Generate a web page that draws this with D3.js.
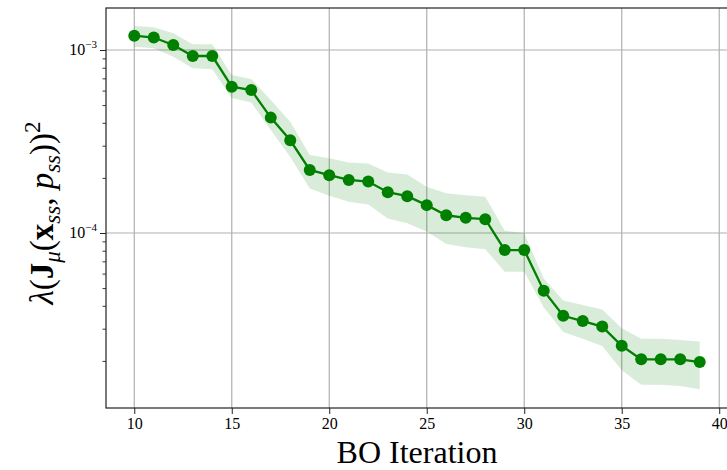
<!DOCTYPE html>
<html>
<head>
<meta charset="utf-8">
<script src="https://cdn.jsdelivr.net/npm/d3@7"></script>
<style>
    body { margin: 0; background: #fff; }
    svg { display: block; }
    text { font-family: "Liberation Serif", "DejaVu Serif", serif; fill: #000; }
</style>
</head>
<body>
<svg id="chart" width="727" height="470"></svg>
<script>
(function () {
    "use strict";

    // BO iterations
    var iterations = [10, 11, 12, 13, 14, 15, 16, 17, 18, 19, 20, 21, 22, 23, 24,
        25, 26, 27, 28, 29, 30, 31, 32, 33, 34, 35, 36, 37, 38, 39];

    // mean eigenvalue
    var meanValues = [1.197e-3, 1.17e-3, 1.065e-3, 9.27e-4, 9.27e-4, 6.3e-4, 6.04e-4, 4.27e-4,
        3.21e-4, 2.21e-4, 2.07e-4, 1.95e-4, 1.91e-4, 1.67e-4, 1.59e-4, 1.42e-4, 1.25e-4,
        1.21e-4, 1.19e-4, 8.07e-5, 8.07e-5, 4.84e-5, 3.53e-5, 3.30e-5, 3.08e-5, 2.42e-5,
        2.04e-5, 2.04e-5, 2.04e-5, 1.97e-5];

    // shaded band
    var upperValues = [1.352e-3, 1.33e-3, 1.233e-3, 1.074e-3, 1.074e-3, 7.30e-4, 6.95e-4, 5.33e-4,
        4.06e-4, 2.67e-4, 2.56e-4, 2.43e-4, 2.40e-4, 2.14e-4, 2.09e-4, 1.79e-4, 1.65e-4,
        1.61e-4, 1.58e-4, 1.03e-4, 9.96e-5, 5.65e-5, 4.28e-5, 4.04e-5, 3.82e-5, 3.02e-5,
        2.64e-5, 2.64e-5, 2.60e-5, 2.55e-5];
    var lowerValues = [1.042e-3, 1.021e-3, 9.19e-4, 7.94e-4, 7.85e-4, 5.47e-4, 5.16e-4, 3.66e-4,
        2.60e-4, 1.75e-4, 1.60e-4, 1.48e-4, 1.43e-4, 1.20e-4, 1.13e-4, 1.02e-4, 8.71e-5,
        8.36e-5, 8.15e-5, 6.15e-5, 6.15e-5, 3.92e-5, 2.88e-5, 2.64e-5, 2.41e-5, 1.78e-5,
        1.48e-5, 1.48e-5, 1.46e-5, 1.40e-5];

    var xTicks = [10, 15, 20, 25, 30, 35, 40];
    var yMajorExps = [-3, -4];
    var yMinorTicks = [2e-5, 3e-5, 4e-5, 5e-5, 6e-5, 7e-5, 8e-5, 9e-5,
        2e-4, 3e-4, 4e-4, 5e-4, 6e-4, 7e-4, 8e-4, 9e-4];

    var margin = {left: 106, top: 8, right: 728, bottom: 408};
    var green = "#008000";

    var svg = d3.select("#chart");

    var x = d3.scaleLinear().domain([8.55, 40.45]).range([margin.left, margin.right]);
    var y = d3.scaleLog().domain([1.106e-5, 1.696e-3]).range([margin.bottom, margin.top]);

    var rows = iterations.map(function (it, i) {
        return {it: it, mean: meanValues[i], lo: lowerValues[i], hi: upperValues[i]};
    });

    // grid
    var grid = svg.append("g").attr("class", "grid");
    grid.selectAll(".gx").data(xTicks).enter().append("line")
        .attr("x1", function (d) { return x(d); })
        .attr("x2", function (d) { return x(d); })
        .attr("y1", margin.top).attr("y2", margin.bottom)
        .attr("stroke", "#b0b0b0").attr("stroke-width", 1.2);
    grid.selectAll(".gy").data(yMajorExps).enter().append("line")
        .attr("y1", function (d) { return y(Math.pow(10, d)); })
        .attr("y2", function (d) { return y(Math.pow(10, d)); })
        .attr("x1", margin.left).attr("x2", margin.right)
        .attr("stroke", "#b0b0b0").attr("stroke-width", 1.2);

    // band
    var area = d3.area()
        .x(function (d) { return x(d.it); })
        .y0(function (d) { return y(d.lo); })
        .y1(function (d) { return y(d.hi); });
    svg.append("path").datum(rows)
        .attr("d", area)
        .attr("fill", green).attr("fill-opacity", 0.15);

    // mean line
    var line = d3.line()
        .x(function (d) { return x(d.it); })
        .y(function (d) { return y(d.mean); });
    svg.append("path").datum(rows)
        .attr("d", line)
        .attr("fill", "none").attr("stroke", green).attr("stroke-width", 2.3);

    svg.append("g").selectAll("circle").data(rows).enter().append("circle")
        .attr("cx", function (d) { return x(d.it); })
        .attr("cy", function (d) { return y(d.mean); })
        .attr("r", 6)
        .attr("fill", green);

    // x axis
    var xAxis = d3.axisBottom(x).tickValues(xTicks).tickSize(6).tickPadding(4).tickFormat(d3.format("d"));
    var gx = svg.append("g").attr("transform", "translate(0," + margin.bottom + ")").call(xAxis);
    gx.select(".domain").remove();
    gx.selectAll(".tick line").attr("stroke", "#222").attr("stroke-width", 1);
    gx.selectAll(".tick text").attr("font-size", 16).attr("font-family", "Liberation Serif").attr("fill", "#222");

    // y axis major
    var yAxis = d3.axisLeft(y).tickValues(yMajorExps.map(function (e) { return Math.pow(10, e); }))
        .tickSize(6).tickFormat("");
    var gy = svg.append("g").attr("transform", "translate(" + margin.left + ",0)").call(yAxis);
    gy.select(".domain").remove();
    gy.selectAll(".tick line").attr("stroke", "#222").attr("stroke-width", 1);

    // y axis minor
    var yMinor = d3.axisLeft(y).tickValues(yMinorTicks).tickSize(3.5).tickFormat("");
    var gym = svg.append("g").attr("transform", "translate(" + margin.left + ",0)").call(yMinor);
    gym.select(".domain").remove();
    gym.selectAll(".tick line").attr("stroke", "#222").attr("stroke-width", 0.9);

    // y tick labels as 10^e
    yMajorExps.forEach(function (e) {
        var t = svg.append("text")
            .attr("x", margin.left - 9)
            .attr("y", y(Math.pow(10, e)) + 5)
            .attr("text-anchor", "end")
            .attr("font-size", 16)
            .attr("fill", "#222");
        t.append("tspan").text("10");
        t.append("tspan").attr("dy", -7).attr("font-size", 11).text("\u2212" + Math.abs(e));
    });

    // spines
    svg.append("rect")
        .attr("x", margin.left).attr("y", margin.top)
        .attr("width", margin.right - margin.left).attr("height", margin.bottom - margin.top)
        .attr("fill", "none").attr("stroke", "#222").attr("stroke-width", 1.2);

    // x label
    svg.append("text")
        .attr("x", (margin.left + margin.right) / 2)
        .attr("y", 463)
        .attr("text-anchor", "middle")
        .attr("font-size", 32)
        .text("BO Iteration");

    // y label: lambda(J_mu(x_ss, p_ss))^2
    var yl = svg.append("text")
        .attr("transform", "translate(53," + 213 + ") rotate(-90)")
        .attr("text-anchor", "middle")
        .attr("font-size", 33);
    yl.append("tspan").attr("font-style", "italic").text("\u03bb");
    yl.append("tspan").text("(");
    yl.append("tspan").attr("font-weight", "bold").text("J");
    yl.append("tspan").attr("font-style", "italic").attr("font-size", 23).attr("dy", 7).text("\u03bc");
    yl.append("tspan").attr("dy", -7).text("(");
    yl.append("tspan").attr("font-weight", "bold").text("x");
    yl.append("tspan").attr("font-style", "italic").attr("font-size", 23).attr("dy", 7).text("ss");
    yl.append("tspan").attr("dy", -7).text(", ");
    yl.append("tspan").attr("font-style", "italic").text("p");
    yl.append("tspan").attr("font-style", "italic").attr("font-size", 23).attr("dy", 7).text("ss");
    yl.append("tspan").attr("dy", -7).text("))");
    yl.append("tspan").attr("font-size", 23).attr("dy", -13).text("2");
}());
</script>
</body>
</html>
